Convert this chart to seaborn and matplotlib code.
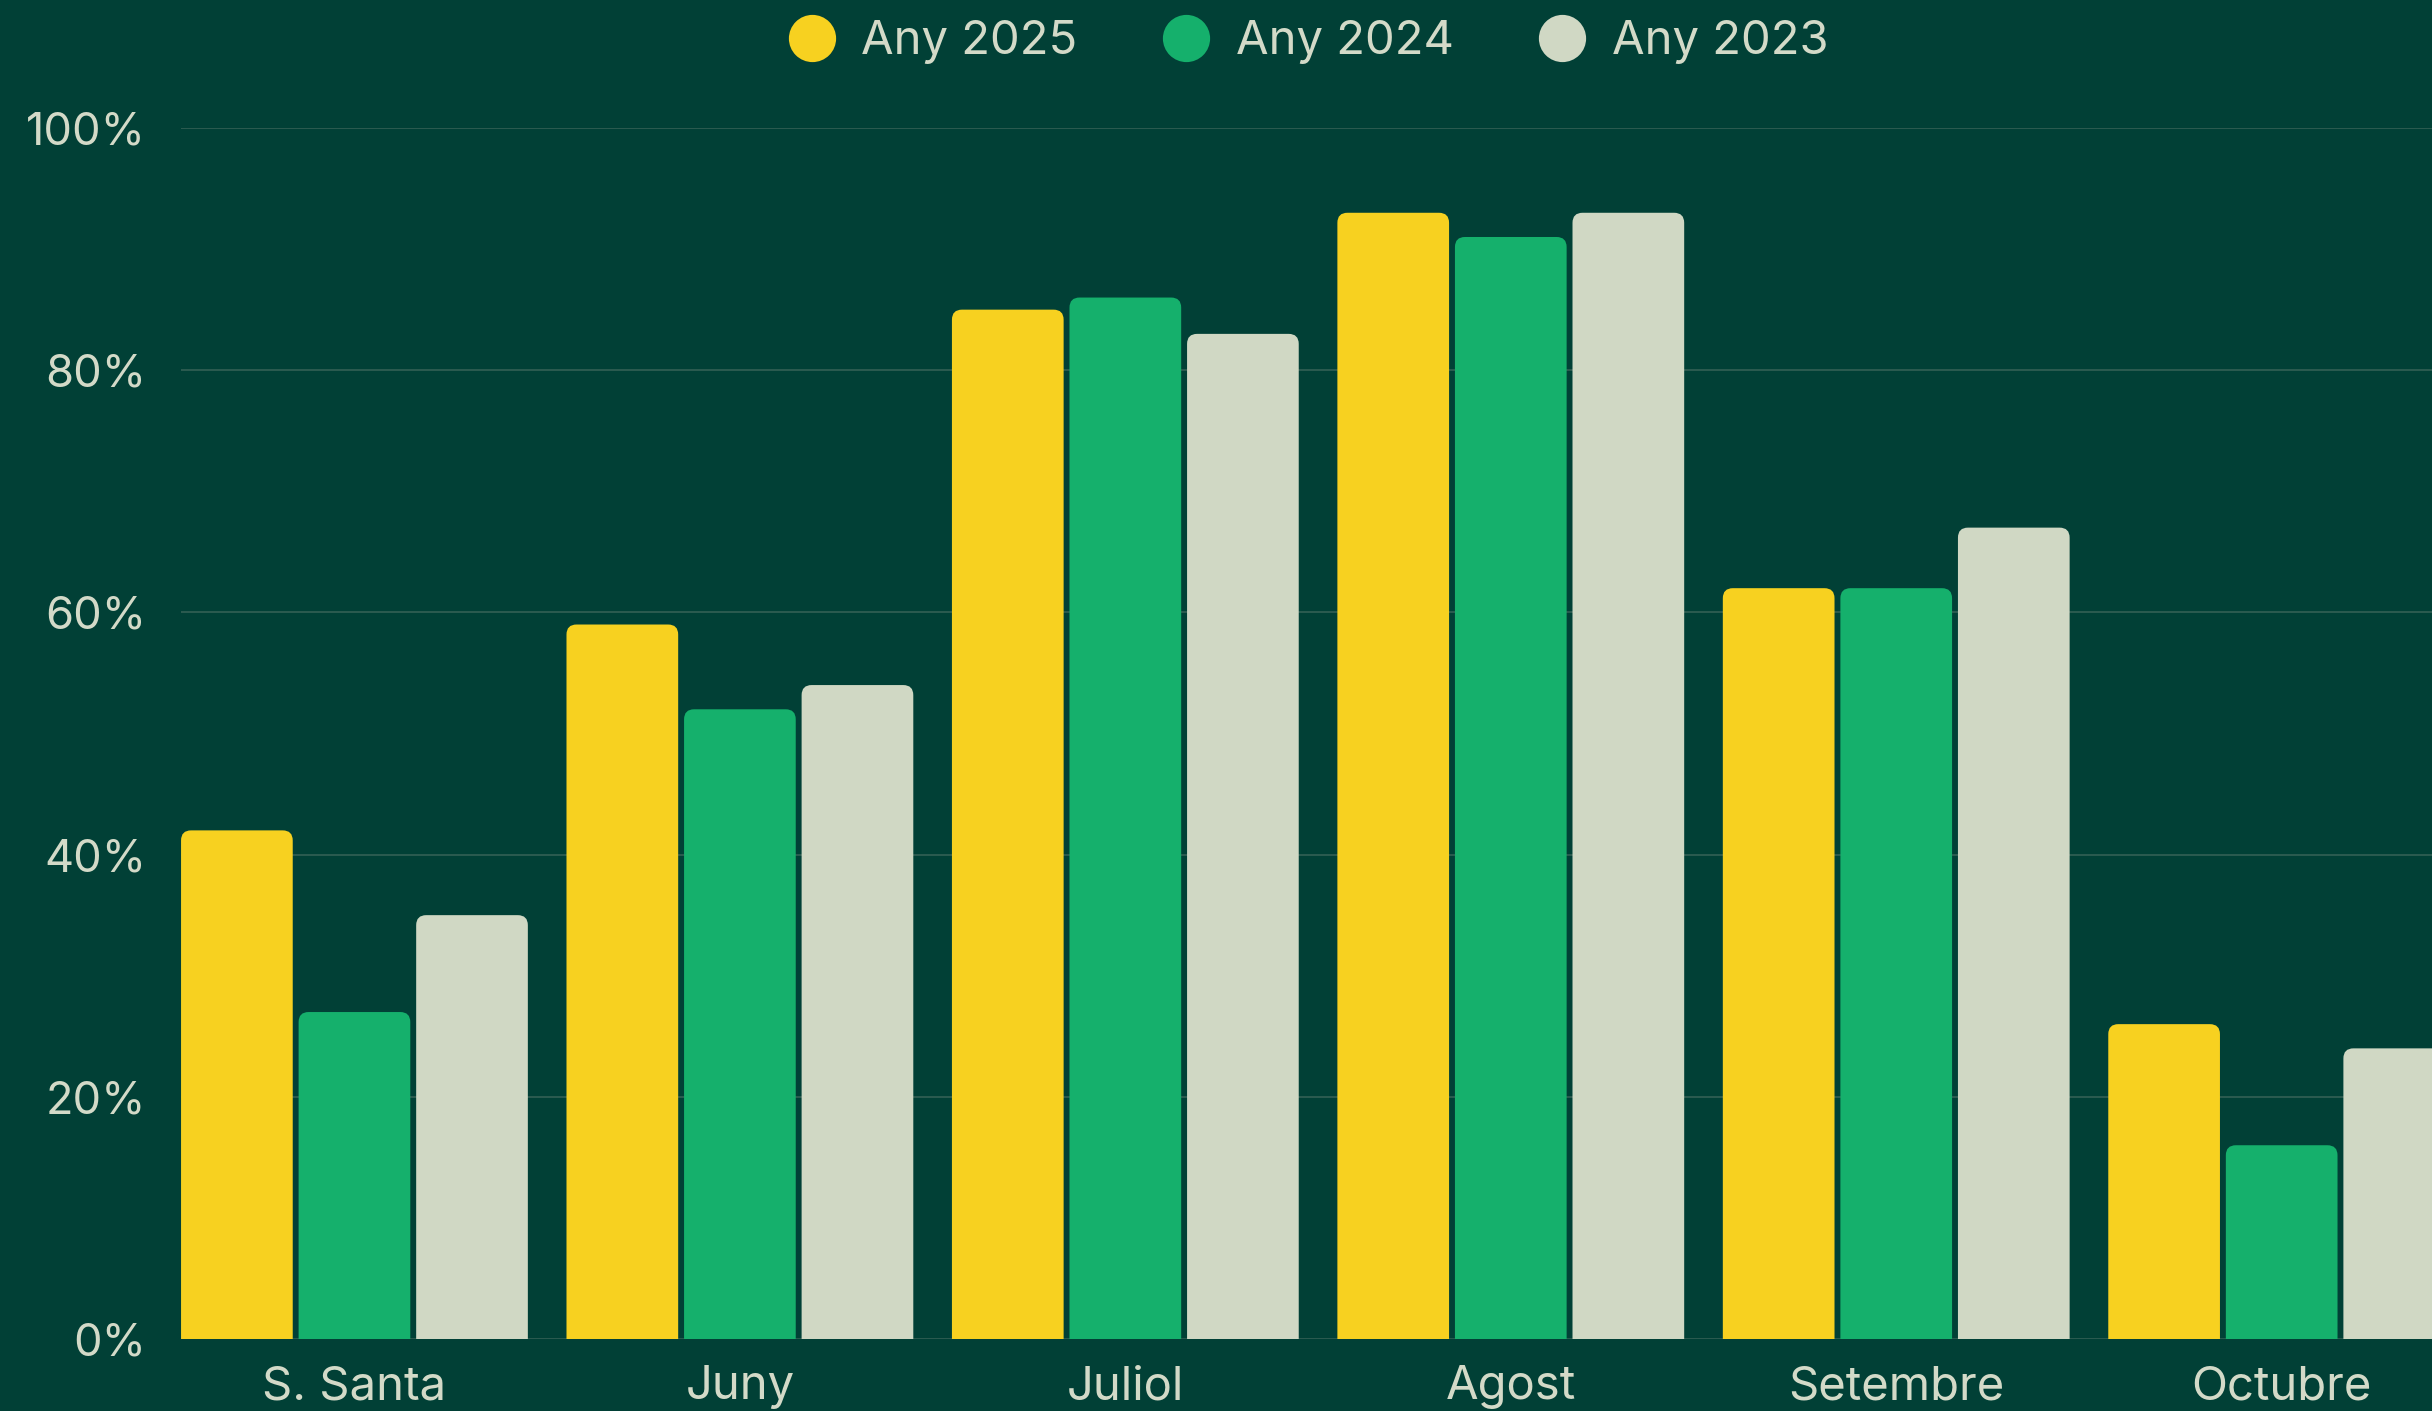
import pandas as pd
import numpy as np
import matplotlib
matplotlib.use("Agg")
import matplotlib.pyplot as plt
from matplotlib.lines import Line2D
from matplotlib.patches import FancyBboxPatch
import seaborn as sns

# occupancy per period, three seasons
periods = ["S. Santa", "Juny", "Juliol", "Agost", "Setembre", "Octubre"]
years = ["Any 2025", "Any 2024", "Any 2023"]
vals_2025 = [42, 59, 85, 93, 62, 26]
vals_2024 = [27, 52, 86, 91, 62, 16]
vals_2023 = [35, 54, 83, 93, 67, 24]
yticks = [0, 20, 40, 60, 80, 100]

bg = "#014036"
txt = "#d3dac8"
colors = ["#f7d120", "#15b06c", "#d0d8c4"]

df = pd.DataFrame({
    "period": periods * 3,
    "year": [years[0]] * 6 + [years[1]] * 6 + [years[2]] * 6,
    "value": vals_2025 + vals_2024 + vals_2023,
})

sns.set_style("dark")
plt.rcParams["font.family"] = ["Inter", "DejaVu Sans"]

fig = plt.figure(figsize=(24.32, 14.11), dpi=100, facecolor=bg)
ax = fig.add_axes([181 / 2432, 72 / 1411, 1 - 181 / 2432, 1211 / 1411])
ax.set_facecolor(bg)

sns.barplot(data=df, x="period", y="value", hue="year", hue_order=years,
            palette=colors, width=0.915, gap=0.05, saturation=1,
            legend=False, ax=ax, zorder=3)

# rounded tops on the bars
for bar in list(ax.patches):
    x, w, h = bar.get_x(), bar.get_width(), bar.get_height()
    fc = bar.get_facecolor()
    bar.remove()
    ax.add_patch(FancyBboxPatch((x, -3), w, h + 3,
                                boxstyle="round,pad=0,rounding_size=0.026",
                                mutation_aspect=31.8, fc=fc, ec="none",
                                zorder=3, clip_on=True))

ax.set_xlim(-0.45, 5.39)
ax.set_ylim(0, 100)
ax.set_yticks(yticks)
ax.set_yticklabels([f"{t}%" for t in yticks])
ax.grid(axis="y", color="#2c5b50", linewidth=1.4, zorder=0)
ax.grid(axis="x", visible=False)
for s in ax.spines.values():
    s.set_visible(False)
ax.tick_params(axis="both", length=0, labelcolor=txt)
ax.tick_params(axis="x", pad=19, labelsize=34)
ax.tick_params(axis="y", pad=25, labelsize=32.5)
ax.set_xlabel("")
ax.set_ylabel("")

handles = [Line2D([], [], marker="o", linestyle="none", markersize=34,
                  markerfacecolor=c, markeredgecolor="none") for c in colors]
leg = fig.legend(handles, years, loc="center", bbox_to_anchor=(0.538, 0.970),
                 ncol=3, frameon=False, fontsize=34, labelcolor=txt,
                 handlelength=1.0, handletextpad=0.55, columnspacing=1.8)

fig.savefig("out.png", dpi=100, facecolor=bg)
